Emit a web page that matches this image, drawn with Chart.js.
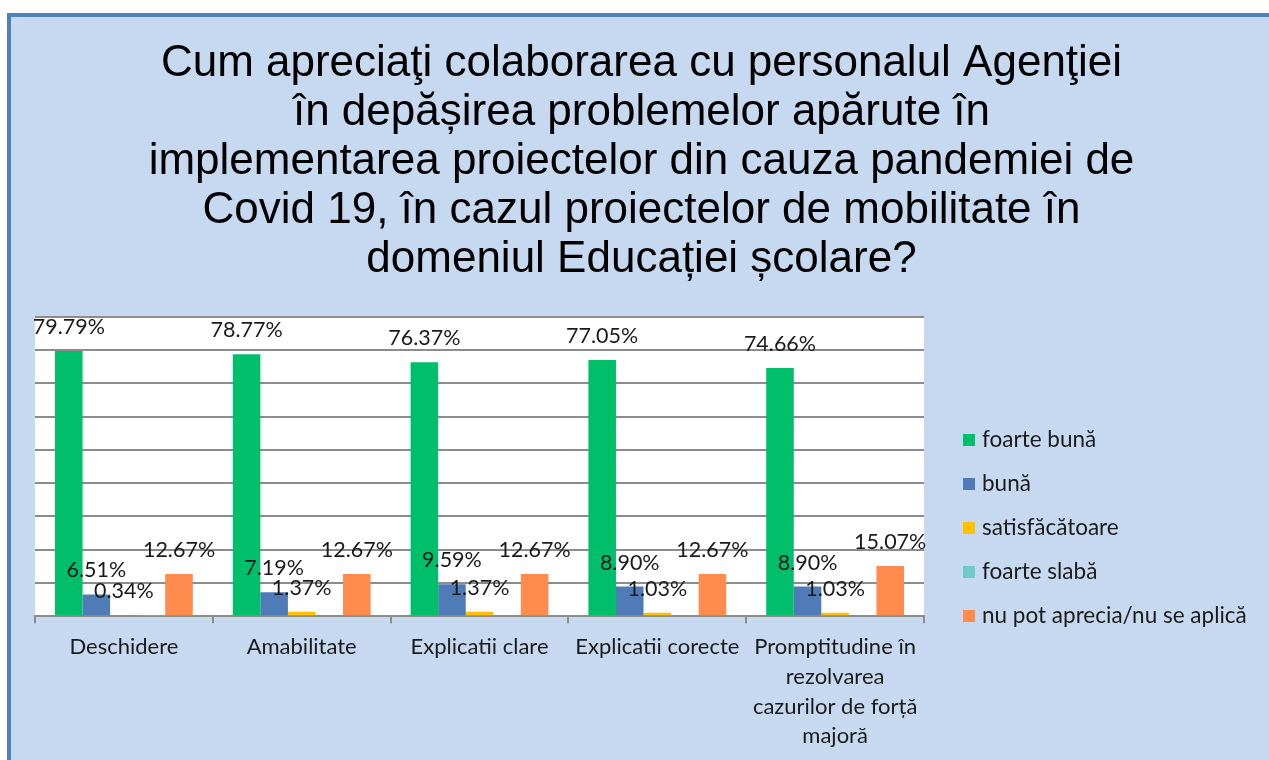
<!DOCTYPE html>
<html>
<head>
<meta charset="utf-8">
<script src="https://cdn.jsdelivr.net/npm/chart.js@4/dist/chart.umd.min.js"></script>
<style>
  html, body { margin: 0; padding: 0; background: #ffffff; }
  #wrap { position: absolute; left: 0; top: 0; width: 1269px; height: 760px; overflow: hidden; }
  #frame { position: absolute; left: 7px; top: 13px; right: -10px; bottom: -10px;
           background: #c6d9f1; border-left: 4px solid #4f81bd; border-top: 4px solid #4f81bd; }
  #c { position: absolute; left: 0; top: 0; }
</style>
</head>
<body>
<div id="wrap">
  <div id="frame"></div>
  <canvas id="c" width="1269" height="760"></canvas>
</div>
<script>
const titleLines = [
  'Cum apreciaţi colaborarea cu personalul Agenţiei',
  'în depășirea problemelor apărute în',
  'implementarea proiectelor din cauza pandemiei de',
  'Covid 19, în cazul proiectelor de mobilitate în',
  'domeniul Educației școlare?'
];
const categories = [
  'Deschidere',
  'Amabilitate',
  'Explicatii clare',
  'Explicatii corecte',
  ['Promptitudine în', 'rezolvarea', 'cazurilor de forță', 'majoră']
];
const seriesNames = ['foarte bună', 'bună', 'satisfăcătoare', 'foarte slabă', 'nu pot aprecia/nu se aplică'];
const foarteBuna     = [79.79, 78.77, 76.37, 77.05, 74.66];
const buna           = [6.51, 7.19, 9.59, 8.90, 8.90];
const satisfacatoare = [0, 1.37, 1.37, 1.03, 1.03];
const foarteSlaba    = [0.34, 0, 0, 0, 0];
const nuPotAprecia   = [12.67, 12.67, 12.67, 12.67, 15.07];
const yMin = 0, yMax = 90, yStep = 10;

const colors = ['#00bf6b', '#4f7bb6', '#ffc000', '#6fcaca', '#ff8b4f'];
const seriesData = [foarteBuna, buna, satisfacatoare, foarteSlaba, nuPotAprecia];
const labelShift = [0, 0, 0, -1, 0];
const FONT = 'Lato, "Open Sans", sans-serif';

const plotBg = {
  id: 'plotBg',
  beforeDraw(chart) {
    const {ctx, chartArea: a} = chart;
    ctx.save();
    ctx.fillStyle = '#ffffff';
    ctx.fillRect(a.left, a.top, a.right - a.left, a.bottom - a.top);
    ctx.restore();
  }
};

const bigTitle = {
  id: 'bigTitle',
  afterDraw(chart) {
    const ctx = chart.ctx;
    ctx.save();
    ctx.font = '44px "Liberation Sans", Arial, sans-serif';
    ctx.fillStyle = '#000000';
    ctx.textAlign = 'center';
    ctx.textBaseline = 'alphabetic';
    const cx = chart.width / 2 + 7;
    titleLines.forEach((t, i) => ctx.fillText(t, cx, 76 + i * 49));
    ctx.restore();
  }
};

const valueLabels = {
  id: 'valueLabels',
  afterDatasetsDraw(chart) {
    const ctx = chart.ctx;
    ctx.save();
    ctx.font = '21.5px ' + FONT;
    ctx.fillStyle = '#1a1a1a';
    ctx.textAlign = 'center';
    ctx.textBaseline = 'middle';
    chart.data.datasets.forEach((ds, di) => {
      const meta = chart.getDatasetMeta(di);
      meta.data.forEach((bar, i) => {
        const v = ds.data[i];
        if (!v) return;
        const w = bar.width || 27;
        const x = bar.x + labelShift[di] * w;
        ctx.fillText(v.toFixed(2) + '%', x, bar.y - 24);
      });
    });
    ctx.restore();
  }
};

const sideLegend = {
  id: 'sideLegend',
  afterDraw(chart) {
    const {ctx, chartArea: a} = chart;
    const n = chart.data.datasets.length;
    const step = 44;
    const cy = a.top + 211;
    const bx = a.right + 39;
    ctx.save();
    ctx.font = '22.5px ' + FONT;
    ctx.textAlign = 'left';
    ctx.textBaseline = 'middle';
    chart.data.datasets.forEach((ds, i) => {
      const y = cy + (i - (n - 1) / 2) * step;
      ctx.fillStyle = ds.backgroundColor;
      ctx.fillRect(bx, y - 6, 12, 12);
      ctx.fillStyle = '#1a1a1a';
      ctx.fillText(ds.label, bx + 19, y);
    });
    ctx.restore();
  }
};

new Chart(document.getElementById('c'), {
  type: 'bar',
  data: {
    labels: categories,
    datasets: seriesNames.map((n, i) => ({
      label: n,
      data: seriesData[i],
      backgroundColor: colors[i],
      borderWidth: 0,
      categoryPercentage: 0.775,
      barPercentage: 1.0
    }))
  },
  options: {
    responsive: false,
    animation: false,
    layout: { padding: { left: 35, right: 345, top: 317, bottom: 0 } },
    plugins: {
      title: { display: false },
      legend: { display: false },
      tooltip: { enabled: false }
    },
    scales: {
      x: {
        offset: true,
        grid: { display: true, offset: true, drawOnChartArea: false, drawTicks: true, tickLength: 7, color: '#8c8c8c', lineWidth: 2 },
        border: { display: true, color: '#8c8c8c', width: 2 },
        ticks: {
          color: '#1a1a1a',
          padding: 9,
          maxRotation: 0,
          autoSkip: false,
          font: { family: FONT, size: 22, lineHeight: '29.7px' }
        }
      },
      y: {
        min: yMin,
        max: yMax,
        ticks: { display: false, stepSize: yStep },
        grid: { color: '#8c8c8c', lineWidth: 2, drawTicks: false },
        border: { display: false }
      }
    }
  },
  plugins: [plotBg, valueLabels, sideLegend, bigTitle]
});
</script>
</body>
</html>
